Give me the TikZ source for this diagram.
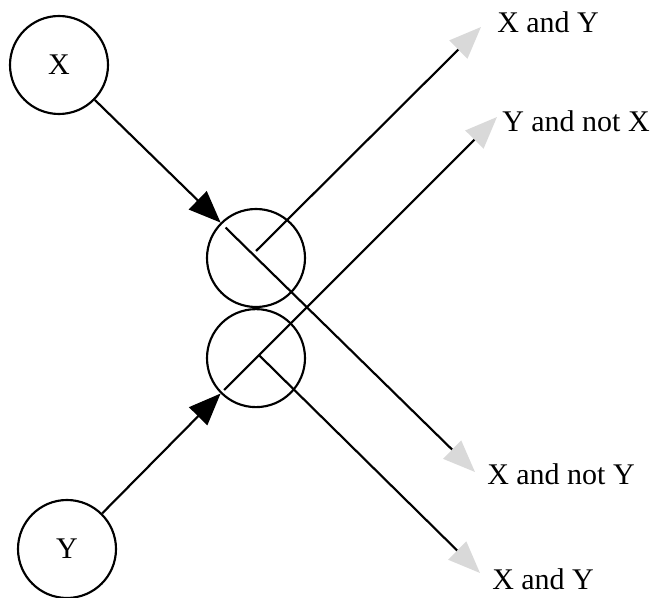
\documentclass[tikz,border=0pt]{standalone}
\usepackage{fontspec}
\setmainfont{Liberation Serif}
\usetikzlibrary{arrows.meta, positioning}
\usetikzlibrary{calc}

\begin{document}
\begin{tikzpicture}[x=0.75pt, y=-0.75pt,
        gate/.style={circle, draw, line width=1.6pt, minimum size=73.5pt, inner sep=0pt},
        wire/.style={line width=1.6pt},
        inarrow/.style={wire, -{Triangle[length=24pt, width=19pt]}},
        outarrow/.style={wire, -{Triangle[length=24pt, width=19pt, color=gray!30]}},
        lbl/.style={anchor=west, inner sep=0pt},
        font=\fontsize{22.5}{26}\selectfont]
        \useasboundingbox (0,0) rectangle (651,598);

        % input circles
        \node[gate] (X) at (59,65) {X};
        \node[gate] (Y) at (67,549) {Y};

        % the two touching circles in the middle
        \node[gate] (top) at (256,258) {};
        \node[gate, below=0pt of top] (bot) {};

        % inputs
        \draw[inarrow] (X) -- (top.135);
        \draw[inarrow] (Y) -- (bot.225);

        % where the outgoing lines start
        \coordinate (ta) at ($(top.center)!0.86!(top.135)$);
        \coordinate (tb) at ($(top.center)+(0,-7)$);
        \coordinate (ba) at ($(bot.center)!0.9!(bot.225)$);
        \coordinate (bb) at ($(bot.center)+(3,-3)$);

        % outputs
        \coordinate (o1) at (481,27);
        \coordinate (o2) at (497,117);
        \coordinate (o3) at (475,472);
        \coordinate (o4) at (480,573);
        \node[lbl] (l1) at (497,22) {X and Y};
        \node[lbl] (l2) at (502,121) {Y and not X};
        \node[lbl] (l3) at (487,474) {X and not Y};
        \node[lbl] (l4) at (492,579) {X and Y};

        \draw[outarrow] (tb) -- (o1);
        \draw[outarrow] (ba) -- (o2);
        \draw[outarrow] (ta) -- (o3);
        \draw[outarrow] (bb) -- (o4);
    \end{tikzpicture}
\end{document}
